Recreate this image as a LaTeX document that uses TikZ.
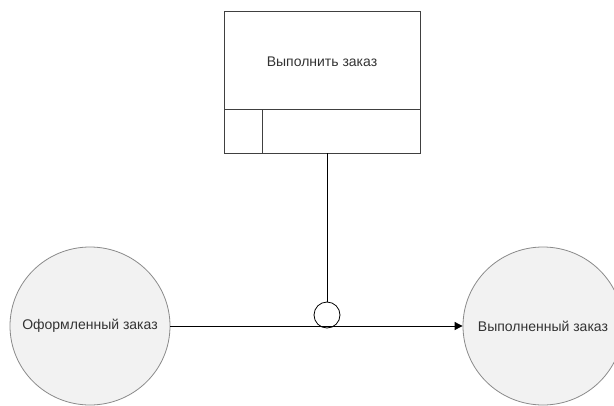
\documentclass[tikz,border=0pt]{standalone}
\usepackage{fontspec}
\setmainfont{Liberation Sans}
\usetikzlibrary{arrows.meta}
\definecolor{boxline}{HTML}{404040}
\definecolor{ovalfill}{HTML}{F2F2F2}
\definecolor{ovalline}{HTML}{8A8A8A}
\definecolor{txt}{HTML}{333333}
\tikzset{
  lbl/.style={font=\fontsize{14}{16}\selectfont, text=txt},
  statenode/.style={ellipse, draw=ovalline, fill=ovalfill, line width=0.8pt, minimum width=160pt, minimum height=158pt, inner sep=0pt},
  linkline/.style={draw=black, line width=0.9pt},
  boxedge/.style={draw=boxline, line width=1pt}
}
\usetikzlibrary{shapes.geometric}
\begin{document}
\begin{tikzpicture}[x=1pt,y=-1pt]
\useasboundingbox (0,0) rectangle (614,405);
\begin{scope}
\clip (0,0) rectangle (614,405);
\node[statenode, label={[lbl]center:Оформленный заказ}] (src) at (90,326) {};
\node[statenode, label={[lbl]center:Выполненный заказ}] (dst) at (543,326) {};
\end{scope}
% process box
\node[boxedge, minimum width=196pt, minimum height=142pt, inner sep=0pt, anchor=north west] (proc) at (224,11) {};
\node[lbl] (ptext) at (322,62) {Выполнить заказ};
\coordinate (divL) at (224,109);
\coordinate (divR) at (420,109);
\draw[boxedge] (divL) -- (divR);
\coordinate (vtop) at (262,109);
\coordinate (vbot) at (262,153);
\draw[boxedge] (vtop) -- (vbot);
% junction circle
\node[circle, draw=black, line width=0.8pt, minimum size=26pt, inner sep=0pt, fill=white] (jn) at (327,315) {};
\coordinate (boxbot) at (327,153);
\draw[linkline] (boxbot) -- (jn.north);
\draw[linkline, -{Triangle[length=8pt,width=8pt]}] (src.east) -- (dst.west);
\end{tikzpicture}
\end{document}
